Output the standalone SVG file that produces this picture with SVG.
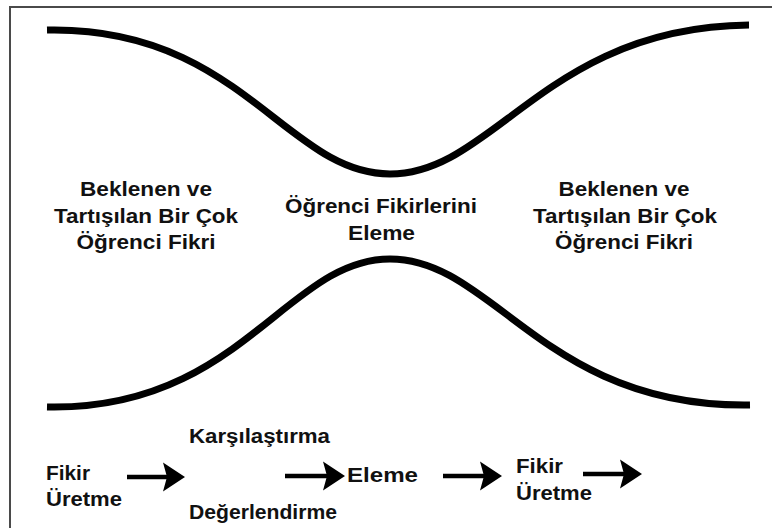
<svg xmlns="http://www.w3.org/2000/svg" width="772" height="528" viewBox="0 0 772 528">
  <defs>
    <style>
      .frame { fill: none; stroke: #4a4a4a; stroke-width: 2; }
      .wall { fill: none; stroke: #000; stroke-width: 7; stroke-linecap: butt; }
      .lbl { font-family: "Liberation Sans", Arial, Helvetica, sans-serif; font-weight: bold; font-size: 20px; fill: #111; }
      .mid { text-anchor: middle; }
      .shaft { fill: none; stroke: #000; stroke-width: 4.5; }
    </style>
    <marker id="head" markerUnits="userSpaceOnUse" markerWidth="24" markerHeight="30" refX="10" refY="14.5" orient="auto" overflow="visible">
      <path d="M0,0 L22,14.5 L0,29 L4,14.5 Z" fill="#000"/>
    </marker>
  </defs>

  <rect width="772" height="528" fill="#fff"/>
  <!-- outer frame (top and left edges) -->
  <path class="frame" d="M10,528 V7 H772"/>

  <!-- funnel walls -->
  <g id="funnel">
    <path class="wall" d="M47,30 C240,26 286,174 390,174 C494,174 546,27 749,25"/>
    <path class="wall" d="M47,407 C240,411 286,259 390,259 C494,259 544,408 750,405"/>
  </g>

  <g id="ideas-left" class="lbl mid">
    <text x="146" y="196" textLength="132" lengthAdjust="spacingAndGlyphs">Beklenen ve</text>
    <text x="146" y="223" textLength="184" lengthAdjust="spacingAndGlyphs">Tartışılan Bir Çok</text>
    <text x="146" y="249" textLength="139" lengthAdjust="spacingAndGlyphs">Öğrenci Fikri</text>
  </g>

  <g id="elimination" class="lbl mid">
    <text x="381" y="213" textLength="192" lengthAdjust="spacingAndGlyphs">Öğrenci Fikirlerini</text>
    <text x="381.5" y="240" textLength="67" lengthAdjust="spacingAndGlyphs">Eleme</text>
  </g>

  <g id="ideas-right" class="lbl mid">
    <text x="624" y="196" textLength="131" lengthAdjust="spacingAndGlyphs">Beklenen ve</text>
    <text x="625" y="223" textLength="184" lengthAdjust="spacingAndGlyphs">Tartışılan Bir Çok</text>
    <text x="624" y="249" textLength="138" lengthAdjust="spacingAndGlyphs">Öğrenci Fikri</text>
  </g>

  <!-- process steps -->
  <g id="step-generate-1" class="lbl">
    <text x="46" y="480" textLength="44" lengthAdjust="spacingAndGlyphs">Fikir</text>
    <text x="46" y="506" textLength="76" lengthAdjust="spacingAndGlyphs">Üretme</text>
  </g>
  <g id="step-compare" class="lbl">
    <text x="189" y="443" textLength="141" lengthAdjust="spacingAndGlyphs">Karşılaştırma</text>
    <text x="189" y="519" textLength="148" lengthAdjust="spacingAndGlyphs">Değerlendirme</text>
  </g>
  <g id="step-eliminate" class="lbl">
    <text x="347" y="482" textLength="71" lengthAdjust="spacingAndGlyphs">Eleme</text>
  </g>
  <g id="step-generate-2" class="lbl">
    <text x="516" y="473" textLength="47" lengthAdjust="spacingAndGlyphs">Fikir</text>
    <text x="516" y="500" textLength="76" lengthAdjust="spacingAndGlyphs">Üretme</text>
  </g>

  <g id="connectors">
    <line class="shaft" x1="127" y1="477" x2="173" y2="477" marker-end="url(#head)"/>
    <line class="shaft" x1="285" y1="476" x2="333" y2="476" marker-end="url(#head)"/>
    <line class="shaft" x1="443" y1="476" x2="490" y2="476" marker-end="url(#head)"/>
    <line class="shaft" x1="583" y1="474" x2="630" y2="474" marker-end="url(#head)"/>
  </g>
</svg>
